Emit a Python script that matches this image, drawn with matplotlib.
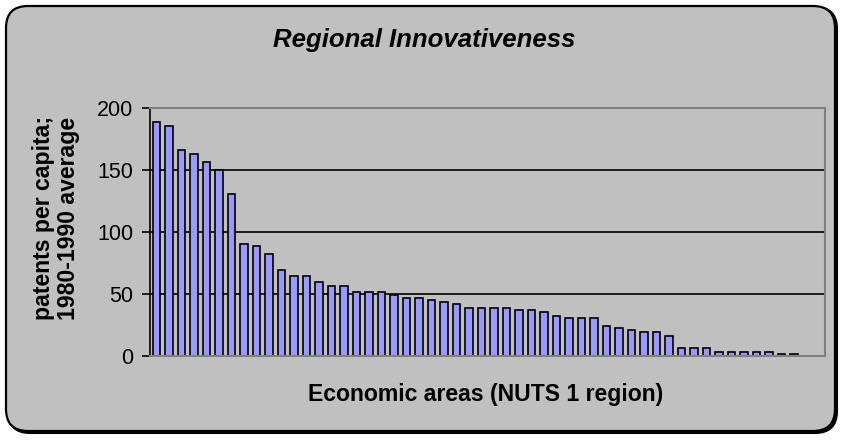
import numpy as np
import matplotlib
matplotlib.use('Agg')
import matplotlib.pyplot as plt
from matplotlib.patches import FancyBboxPatch
from matplotlib.transforms import IdentityTransform

plt.rcParams['font.family'] = ['Liberation Sans', 'DejaVu Sans']

# patents per capita per NUTS 1 region, sorted
n_regions = 54
values = [188.7, 185.5, 166, 163, 156.7, 150.2, 130.5, 90.2, 88.8, 82.1,
          69.2, 64.3, 64.3, 59.5, 56.3, 56.3, 51.7, 51.7, 51.7, 49.5,
          46.6, 46.6, 45, 43.3, 41.7, 38.5, 38.5, 38.5, 38.5, 37.1,
          37.1, 35.5, 32.3, 30.4, 30.4, 30.4, 24, 22.3, 21, 19.4,
          19.4, 15.9, 6.5, 6.5, 6.5, 3, 3, 3, 3, 3,
          1.6, 1.6]
y_ticks = [0, 50, 100, 150, 200]

W, H = 843, 443
fig = plt.figure(figsize=(W/100, H/100), dpi=100)
fig.patch.set_facecolor('white')

# chart area box with rounded corners + shadow
shadow = FancyBboxPatch((8, 10), 829, 426, boxstyle='round,pad=0,rounding_size=22',
                        transform=IdentityTransform(), facecolor='black', edgecolor='black',
                        linewidth=1.5, zorder=-3)
box = FancyBboxPatch((6, 12), 829, 425, boxstyle='round,pad=0,rounding_size=22',
                     transform=IdentityTransform(), facecolor='#c0c0c0', edgecolor='black',
                     linewidth=1.6, zorder=-2)
fig.patches.append(shadow)
fig.patches.append(box)

ax = fig.add_axes([150/W, (H-356)/H, (825-150)/W, (356-108)/H])
ax.set_facecolor('#c0c0c0')

x = np.arange(len(values))
for yv in [50, 100, 150]:
    ax.axhline(yv, color='black', linewidth=1.2, zorder=1)
ax.bar(x, values, width=0.6, color='#9999ff', edgecolor='black', linewidth=1.2, zorder=2)

ax.set_xlim(-0.5, n_regions-0.5)
ax.set_ylim(0, 200)
ax.set_yticks(y_ticks)
ax.set_xticks([])
ax.tick_params(axis='y', labelsize=15.5, length=6, width=1.2, pad=6, direction='out')
for s in ['top', 'right', 'bottom']:
    ax.spines[s].set_color('#808080')
    ax.spines[s].set_linewidth(1.5)
ax.spines['left'].set_color('black')
ax.spines['left'].set_linewidth(1.2)

fig.text(424/W, (H-40)/H, 'Regional Innovativeness', fontsize=18.5, fontweight='bold',
         fontstyle='italic', ha='center', va='center')
fig.text(486/W, (H-395)/H, 'Economic areas (NUTS 1 region)', fontsize=16.6,
         fontweight='bold', ha='center', va='center')
fig.text(56/W, (H-218)/H, 'patents per capita;\n1980-1990 average', fontsize=16.6,
         fontweight='bold', rotation=90, ha='center', va='center', multialignment='center',
         linespacing=1.15)

fig.savefig('out.png', dpi=100)
